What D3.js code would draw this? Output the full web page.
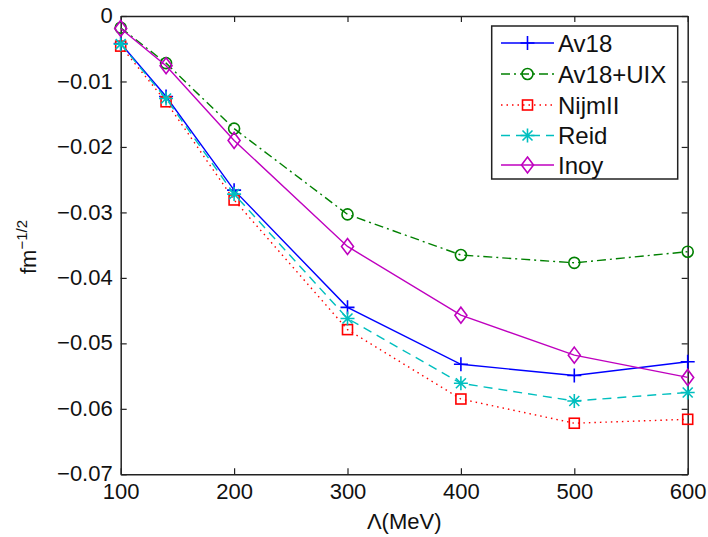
<!DOCTYPE html>
<html>
<head>
<meta charset="utf-8">
<script src="https://cdn.jsdelivr.net/npm/d3@7"></script>
<style>
  html, body { margin: 0; padding: 0; background: #fff; }
  svg { display: block; font-family: "Liberation Sans", Arial, sans-serif; }
</style>
</head>
<body>
<svg id="chart" width="708" height="537"></svg>
<script>
const lambdas = [100, 140, 200, 300, 400, 500, 600];
const av18    = [-0.0042, -0.0123, -0.0266, -0.0445, -0.0532, -0.0549, -0.0528];
const av18uix = [-0.0018, -0.0072, -0.0172, -0.0303, -0.0365, -0.0377, -0.0360];
const nijm2   = [-0.0046, -0.0131, -0.0281, -0.0479, -0.0585, -0.0622, -0.0616];
const reid    = [-0.0043, -0.0126, -0.0272, -0.0462, -0.0561, -0.0588, -0.0575];
const inoy    = [-0.0019, -0.0076, -0.0190, -0.0352, -0.0457, -0.0518, -0.0552];
const xTicks = [100, 200, 300, 400, 500, 600];
const yTicks = [0, -0.01, -0.02, -0.03, -0.04, -0.05, -0.06, -0.07];

const series = [
  {name: "Av18",     values: av18,    color: "#0000ff", dash: null,        marker: "plus"},
  {name: "Av18+UIX", values: av18uix, color: "#008000", dash: "9,4,2,4",   marker: "circle"},
  {name: "NijmII",   values: nijm2,   color: "#ff0000", dash: "1.5,4",     marker: "square"},
  {name: "Reid",     values: reid,    color: "#00bfbf", dash: "9,6",       marker: "star"},
  {name: "Inoy",     values: inoy,    color: "#bf00bf", dash: null,        marker: "diamond"}
];

const svg = d3.select("#chart");
const L = 120.7, R = 687.7, T = 16, B = 474.3;
const x = d3.scaleLinear().domain([100, 600]).range([L, R]);
const y = d3.scaleLinear().domain([-0.07, 0]).range([B, T]);

const fmt = v => v === 0 ? "0" : d3.format(".2f")(v).replace("-", "\u2212");

// axes (MATLAB box style, inward ticks)
const tl = 6;
const gB = svg.append("g").attr("transform", `translate(0,${B})`)
  .call(d3.axisBottom(x).tickValues(xTicks).tickSizeInner(-tl).tickSizeOuter(0).tickPadding(8).tickFormat(d3.format("d")));
const gT = svg.append("g").attr("transform", `translate(0,${T})`)
  .call(d3.axisTop(x).tickValues(xTicks).tickSizeInner(-tl).tickSizeOuter(0).tickFormat(""));
const gL = svg.append("g").attr("transform", `translate(${L},0)`)
  .call(d3.axisLeft(y).tickValues(yTicks).tickSizeInner(-tl).tickSizeOuter(0).tickPadding(8).tickFormat(fmt));
const gR = svg.append("g").attr("transform", `translate(${R},0)`)
  .call(d3.axisRight(y).tickValues(yTicks).tickSizeInner(-tl).tickSizeOuter(0).tickFormat(""));
[gB, gT, gL, gR].forEach(g => {
  g.select(".domain").attr("stroke", "#222").attr("stroke-width", 1.5);
  g.selectAll(".tick line").attr("stroke", "#222").attr("stroke-width", 1.2);
  g.selectAll(".tick text").attr("fill", "#111").attr("font-size", 22)
    .attr("font-family", "'Liberation Sans', Arial, sans-serif");
});
gB.selectAll(".tick text").attr("dy", "0.75em");
gL.selectAll(".tick text").attr("dy", "0.3em");

// axis labels
svg.append("text").attr("x", (L + R) / 2).attr("y", 529).attr("text-anchor", "middle")
  .attr("font-size", 22).attr("fill", "#111").text("\u039B(MeV)");
const yl = svg.append("text").attr("transform", "translate(36,247) rotate(-90)")
  .attr("text-anchor", "middle").attr("font-size", 22).attr("fill", "#111");
yl.append("tspan").text("fm");
yl.append("tspan").attr("dy", -9).attr("font-size", 15).text("\u22121/2");

// marker painter
function drawMarker(g, kind, cx, cy, color) {
  const s = g.append("g").attr("transform", `translate(${cx},${cy})`)
    .attr("stroke", color).attr("fill", "none").attr("stroke-width", 1.6);
  if (kind === "plus") {
    s.append("path").attr("d", "M-7,0H7M0,-7V7");
  } else if (kind === "circle") {
    s.append("circle").attr("r", 5.5);
  } else if (kind === "square") {
    s.append("rect").attr("x", -5).attr("y", -5).attr("width", 10).attr("height", 10);
  } else if (kind === "star") {
    s.append("path").attr("d", "M-7,0H7M0,-7V7M-5,-5L5,5M-5,5L5,-5");
  } else if (kind === "diamond") {
    s.append("path").attr("d", "M0,-8L6,0L0,8L-6,0Z");
  }
}

const line = d3.line().x(d => x(d[0])).y(d => y(d[1]));
const plot = svg.append("g");
series.forEach(sr => {
  const pts = lambdas.map((l, i) => [l, sr.values[i]]);
  plot.append("path").datum(pts).attr("d", line).attr("fill", "none")
    .attr("stroke", sr.color).attr("stroke-width", 1.4)
    .attr("stroke-dasharray", sr.dash);
  pts.forEach(p => drawMarker(plot, sr.marker, x(p[0]), y(p[1]), sr.color));
});

// legend
const lg = svg.append("g");
lg.append("rect").attr("x", 491.7).attr("y", 26).attr("width", 186).attr("height", 153)
  .attr("fill", "#fff").attr("stroke", "#222").attr("stroke-width", 1.5);
const rowY = [43, 74, 105, 135.5, 165];
series.forEach((sr, i) => {
  const yy = rowY[i];
  lg.append("line").attr("x1", 501).attr("x2", 554).attr("y1", yy).attr("y2", yy)
    .attr("stroke", sr.color).attr("stroke-width", 1.4).attr("stroke-dasharray", sr.dash);
  drawMarker(lg, sr.marker, 527.5, yy, sr.color);
  lg.append("text").attr("x", 558).attr("y", yy).attr("dy", "0.36em")
    .attr("font-size", 24).attr("fill", "#111").text(sr.name);
});
</script>
</body>
</html>
